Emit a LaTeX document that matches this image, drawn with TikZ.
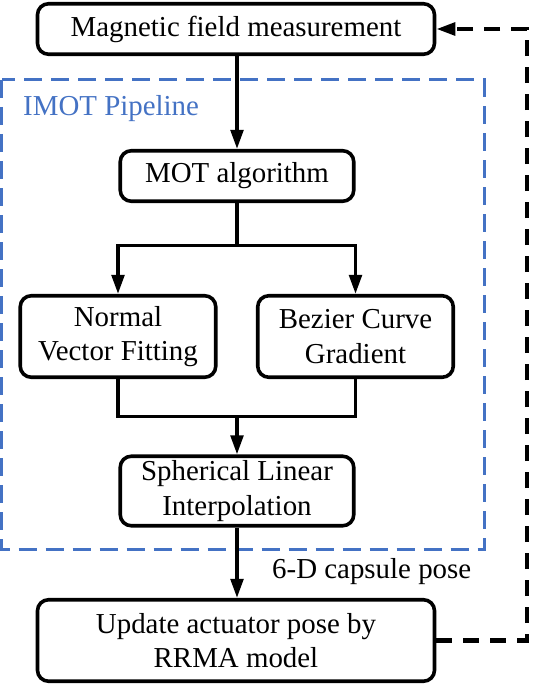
\documentclass[tikz,border=0pt]{standalone}
\usepackage{fontspec}
\setmainfont{Liberation Serif}
\newfontfamily\tnrfont{Liberation Serif}
\usetikzlibrary{arrows.meta}
\definecolor{pipeblue}{HTML}{4472C4}
\begin{document}
\begin{tikzpicture}[x=1pt,y=-1pt,
  every node/.style={font=\tnrfont\fontsize{28.9}{34.7}\selectfont},
  box/.style={draw=black,line width=3.6pt,rounded corners=11pt,align=center,inner sep=0pt,fill=white},
  arr/.style={line width=3.6pt,-{Triangle[length=19pt,width=12.5pt]}},
  ln/.style={line width=3.6pt},
  fb/.style={line width=4.2pt,dash pattern=on 16pt off 11pt,-{Triangle[length=19pt,width=12.5pt]}},
  pipe/.style={draw=pipeblue,line width=3pt,dash pattern=on 18pt off 9pt}]
\useasboundingbox (0,0) rectangle (534,695);
\draw[pipe] (1.7,80) rectangle (484.3,549);
\node[text=pipeblue,anchor=base west,inner sep=0pt] (lbl) at (23,116) {IMOT Pipeline};
\node[box,minimum width=397pt,minimum height=50.5pt] (meas) at (236,29) {Magnetic field measurement};
\node[box,minimum width=233.5pt,minimum height=50.5pt] (mot) at (237,176) {MOT algorithm};
\node[box,minimum width=195.5pt,minimum height=81.5pt] (nvf) at (118,336.5) {Normal\\Vector Fitting};
\node[box,minimum width=195.5pt,minimum height=81.5pt] (bez) at (355.5,336.5) {Bezier Curve\\Gradient};
\node[box,minimum width=233.5pt,minimum height=69.5pt] (slerp) at (237,491) {Spherical Linear\\Interpolation};
\node[box,minimum width=397pt,minimum height=81.5pt] (upd) at (236,640.5) {Update actuator pose by\\RRMA model};
\node[anchor=base west,inner sep=0pt] (pose) at (272,578) {6-D capsule pose};
\coordinate (split) at (237,245.5);
\coordinate (merge) at (237,416.5);
\coordinate (corner) at (527,640.5);
\draw[arr] (meas.south -| mot.north) -- (mot.north);
\draw[ln] (mot.south) -- (split);
\draw[arr] (split) -| (nvf.north);
\draw[arr] (split) -| (bez.north);
\draw[ln] (nvf.south) |- (merge) -| (bez.south);
\draw[arr] (merge) -- (slerp.north);
\draw[arr] (slerp.south) -- (upd.north -| slerp.south);
\draw[fb] (upd.east) -- (corner) |- (meas.east);
\end{tikzpicture}
\end{document}
